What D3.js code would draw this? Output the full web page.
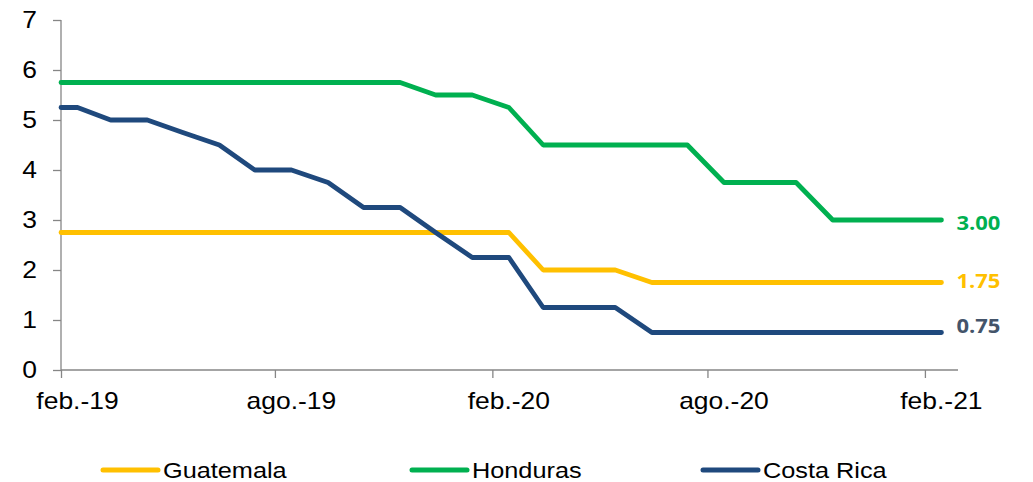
<!DOCTYPE html>
<html>
<head>
<meta charset="utf-8">
<script src="https://cdn.jsdelivr.net/npm/d3@7"></script>
<style>
body { margin: 0; background: #fff; }
text { font-family: "Liberation Sans", Arial, sans-serif; fill: #000; }
.axis path, .axis line { stroke: #868686; stroke-width: 1.3; }
</style>
</head>
<body>
<div id="chart"></div>
<script>
var width = 1033, height = 482;

// semi-monthly readings, feb.-19 .. feb.-21
var dates = ["2019-02-01",
  "2019-02-15","2019-03-15","2019-04-15","2019-05-15","2019-06-15","2019-07-15",
  "2019-08-15","2019-09-15","2019-10-15","2019-11-15","2019-12-15",
  "2020-01-15","2020-02-15","2020-03-15","2020-04-15","2020-05-15","2020-06-15",
  "2020-07-15","2020-08-15","2020-09-15","2020-10-15","2020-11-15","2020-12-15",
  "2021-01-15","2021-02-15"];

var guatemala = [2.75, 2.75,2.75,2.75,2.75,2.75,2.75,2.75,2.75,2.75,2.75,2.75,
  2.75,2.75,2.00,2.00,2.00,1.75,1.75,1.75,1.75,1.75,1.75,1.75,1.75,1.75];
var honduras = [5.75, 5.75,5.75,5.75,5.75,5.75,5.75,5.75,5.75,5.75,5.75,5.50,
  5.50,5.25,4.50,4.50,4.50,4.50,4.50,3.75,3.75,3.75,3.00,3.00,3.00,3.00];
var costaRica = [5.25, 5.25,5.00,5.00,4.75,4.50,4.00,4.00,3.75,3.25,3.25,2.75,
  2.25,2.25,1.25,1.25,1.25,0.75,0.75,0.75,0.75,0.75,0.75,0.75,0.75,0.75];

var seriesNames = ["Guatemala", "Honduras", "Costa Rica"];
var seriesValues = [guatemala, honduras, costaRica];
var colors = ["#FFC000", "#00B050", "#1F497D"];
var labelColors = ["#FFC000", "#00B050", "#44546A"];

var yTicks = [0, 1, 2, 3, 4, 5, 6, 7];
var xTickDates = ["2019-02-01", "2019-08-01", "2020-02-01", "2020-08-01", "2021-02-01"];
var xTickLabels = ["feb.-19", "ago.-19", "feb.-20", "ago.-20", "feb.-21"];

var parse = d3.utcParse("%Y-%m-%d");
var sx = 1.15; // the reference text is a little wide

var svg = d3.select("#chart").append("svg")
    .attr("width", width)
    .attr("height", height);

var x = d3.scaleUtc()
    .domain([parse("2019-02-01"), parse("2021-03-01")])
    .range([61, 958]);

var y = d3.scaleLinear()
    .domain([0, 7])
    .range([370, 20]);

// y axis
var yAxis = svg.append("g")
    .attr("class", "axis")
    .attr("transform", "translate(61,0)")
    .call(d3.axisLeft(y).tickValues(yTicks).tickSize(8).tickPadding(16).tickFormat(d3.format("d")));
yAxis.selectAll("text")
    .style("font-size", "23px")
    .attr("x", -24 / sx)
    .attr("transform", "scale(" + sx + ",1)");

// x axis, labels sit half a month right of the tick
var xAxis = svg.append("g")
    .attr("class", "axis")
    .attr("transform", "translate(0,370)")
    .call(d3.axisBottom(x)
        .tickValues(xTickDates.map(parse))
        .tickSize(8).tickPadding(15)
        .tickFormat(function(d, i) { return xTickLabels[i]; }));
xAxis.selectAll("text")
    .style("font-size", "23px")
    .attr("x", 16 / sx)
    .attr("transform", "scale(" + sx + ",1)");
yAxis.select(".domain").attr("d", "M0,20V370");
xAxis.select(".domain").attr("d", "M61,0H958");

var line = d3.line()
    .x(function(d, i) { return x(parse(dates[i])); })
    .y(function(d) { return y(d); });

seriesValues.forEach(function(vals, k) {
    svg.append("path")
        .datum(vals)
        .attr("d", line)
        .attr("fill", "none")
        .attr("stroke", colors[k])
        .attr("stroke-width", 4.8)
        .attr("stroke-linejoin", "round")
        .attr("stroke-linecap", "round");
});

// end labels
var labelNudge = [-1.5, 3, -7];
var lastX = x(parse(dates[dates.length - 1]));
var fmt = d3.format(".2f");
seriesValues.forEach(function(vals, k) {
    var v = vals[vals.length - 1];
    svg.append("g")
        .attr("transform", "translate(" + (lastX + 15) + "," + (y(v) + labelNudge[k]) + ") scale(1.1,1)")
      .append("text")
        .attr("dy", "0.35em")
        .style("font-family", "'Open Sans', sans-serif")
        .style("font-weight", "bold")
        .style("font-size", "20px")
        .style("fill", labelColors[k])
        .text(fmt(v));
});

// legend
var legendX = [103, 412, 703];
var legend = svg.selectAll(".legend")
    .data(seriesNames)
    .enter().append("g")
    .attr("class", "legend")
    .attr("transform", function(d, i) { return "translate(" + legendX[i] + ",470)"; });
legend.append("line")
    .attr("x1", 0).attr("x2", 55)
    .attr("stroke", function(d, i) { return colors[i]; })
    .attr("stroke-width", 5)
    .attr("stroke-linecap", "round");
legend.append("text")
    .attr("x", 60 / sx)
    .attr("y", 8)
    .attr("transform", "scale(" + sx + ",1)")
    .style("font-size", "22px")
    .text(function(d) { return d; });
</script>
</body>
</html>
